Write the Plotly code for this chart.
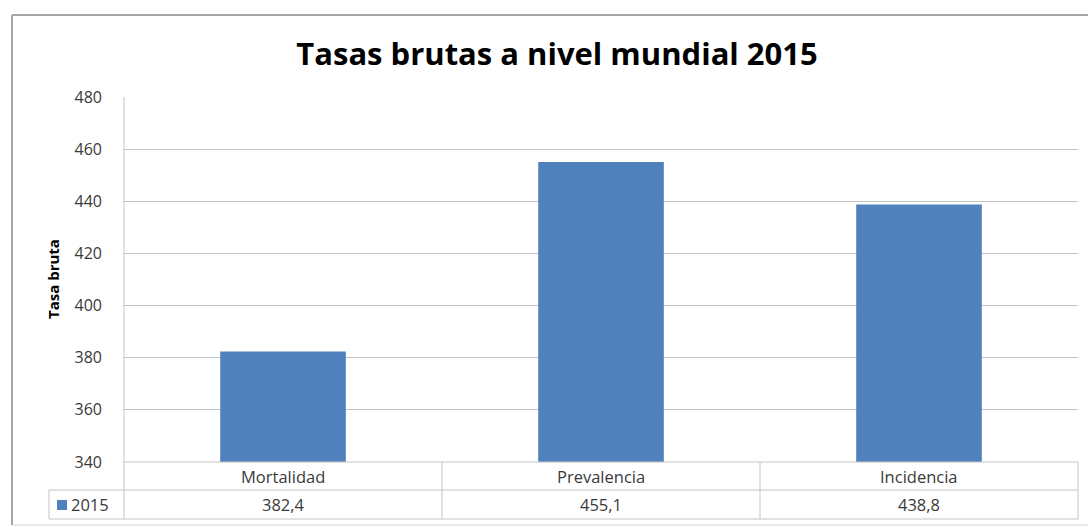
import plotly.graph_objects as go

categories = ["Mortalidad", "Prevalencia", "Incidencia"]
values_2015 = [382.4, 455.1, 438.8]
value_labels = ["382,4", "455,1", "438,8"]
series_name = "2015"
y_ticks = [340, 360, 380, 400, 420, 440, 460, 480]

W, H = 1088, 527
L, R, T, B = 124, 1078, 97, 462  # plot area in pixels
pw, ph = R - L, B - T

def px(x):
    return (x - L) / pw

def py(y):
    return (B - y) / ph

bar_color = "#4f81bd"
line_col = "#c4c4c4"
font_fam = "Open Sans, Liberation Sans, sans-serif"
txt_col = "#3a3a3a"

fig = go.Figure()
fig.add_trace(go.Bar(
    x=list(range(len(categories))), y=values_2015, name=series_name,
    marker=dict(color=bar_color, line=dict(width=0)), width=0.395,
    showlegend=False, hoverinfo="x+y",
))

shapes = []
def line(x0, y0, x1, y1, color=line_col, w=1):
    shapes.append(dict(type="line", xref="paper", yref="paper",
                       x0=px(x0), y0=py(y0), x1=px(x1), y1=py(y1),
                       line=dict(color=color, width=w)))

# outer chart border
line(12, 15, 1088, 15, "#a6a6a6", 2)
line(12, 15, 12, 525, "#a6a6a6", 2)
line(12, 525, 1088, 525, "#d0d0d0", 1)

# data table
row1, row2, row3 = 462, 490, 519
line(L, row1, R, row1)
line(49, row2, R, row2)
line(49, row3, R, row3)
line(49, row2, 49, row3)
line(L, T, L, row3)
ncat = len(categories)
colw = pw / ncat
for i in range(1, ncat + 1):
    line(L + colw * i, row1, L + colw * i, row3)

tbl_font = dict(size=16.5, color=txt_col, family=font_fam)
annotations = []
for i, (c, v) in enumerate(zip(categories, value_labels)):
    cx = px(L + colw * (i + 0.5))
    annotations.append(dict(x=cx, y=py((row1 + row2) / 2), xref="paper", yref="paper",
                            xanchor="center", yanchor="middle",
                            text=c, showarrow=False, font=tbl_font))
    annotations.append(dict(x=cx, y=py((row2 + row3) / 2), xref="paper", yref="paper",
                            xanchor="center", yanchor="middle",
                            text=v, showarrow=False, font=tbl_font))

# legend key in table
shapes.append(dict(type="rect", xref="paper", yref="paper",
                   x0=px(57), x1=px(67), y0=py(500), y1=py(510),
                   fillcolor=bar_color, line=dict(width=0)))
annotations.append(dict(x=px(69), y=py((row2 + row3) / 2), xref="paper", yref="paper",
                        xanchor="left", yanchor="middle", text=series_name, showarrow=False,
                        font=tbl_font))

# y axis title
annotations.append(dict(x=px(53), y=py(279), xref="paper", yref="paper",
                        xanchor="center", yanchor="middle",
                        text="<b>Tasa bruta</b>", textangle=-90, showarrow=False,
                        font=dict(size=15, color="#000000", family=font_fam)))

fig.update_layout(
    width=W, height=H,
    margin=dict(l=L, r=W - R, t=T, b=H - B, pad=0),
    paper_bgcolor="white", plot_bgcolor="white",
    title=dict(text="<b>Tasas brutas a nivel mundial 2015</b>", x=0.512, xanchor="center",
               y=1 - 54 / H, yanchor="middle",
               font=dict(size=31, color="#000000", family=font_fam)),
    xaxis=dict(range=[-0.5, ncat - 0.5], showticklabels=False, showgrid=False,
               zeroline=False, showline=False, fixedrange=True),
    yaxis=dict(range=[340, 480], tickvals=y_ticks, showgrid=True, gridcolor=line_col,
               gridwidth=1, zeroline=False, showline=False, ticks="",
               ticklabelstandoff=21,
               tickfont=dict(size=16, color=txt_col, family=font_fam)),
    shapes=shapes, annotations=annotations,
)

fig.write_html("out.html")
